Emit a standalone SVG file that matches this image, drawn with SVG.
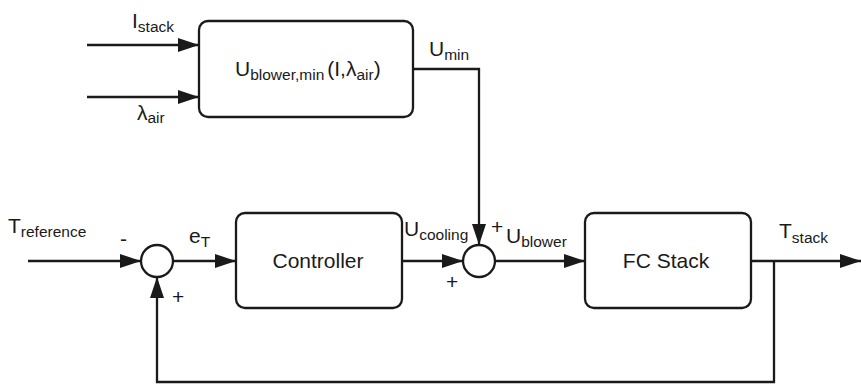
<svg xmlns="http://www.w3.org/2000/svg" width="861" height="385" viewBox="0 0 861 385">
  <style>
    .blk { fill: #fff; stroke: #1a1a1a; stroke-width: 2.3; }
    .sum { fill: #fff; stroke: #1a1a1a; stroke-width: 2.3; }
    .wire { fill: none; stroke: #1a1a1a; stroke-width: 2.3; }
    text { font-family: "Liberation Sans", Arial, sans-serif; fill: #1a1a1a; font-size: 21px; }
    .sub { font-size: 15.5px; }
  </style>
  <defs>
    <marker id="arrow" markerUnits="userSpaceOnUse" markerWidth="21" markerHeight="14" refX="21" refY="7" orient="auto">
      <path d="M0,0 L21,7 L0,14 Z" fill="#1a1a1a"/>
    </marker>
  </defs>

  <!-- signal lines -->
  <g id="connectors">
    <line class="wire" x1="87" y1="45" x2="199" y2="45" marker-end="url(#arrow)"/>
    <line class="wire" x1="87" y1="97" x2="199" y2="97" marker-end="url(#arrow)"/>
    <polyline class="wire" points="413,69 479,69 479,245" marker-end="url(#arrow)"/>
    <line class="wire" x1="28" y1="261" x2="141" y2="261" marker-end="url(#arrow)"/>
    <line class="wire" x1="173" y1="261" x2="236" y2="261" marker-end="url(#arrow)"/>
    <line class="wire" x1="402" y1="261" x2="463" y2="261" marker-end="url(#arrow)"/>
    <line class="wire" x1="495" y1="261" x2="585" y2="261" marker-end="url(#arrow)"/>
    <line class="wire" x1="751" y1="261" x2="861" y2="261" marker-end="url(#arrow)"/>
    <polyline class="wire" points="774,261 774,382 157,382 157,277" marker-end="url(#arrow)"/>
  </g>

  <!-- minimum blower voltage map -->
  <g id="umin-map">
    <rect class="blk" x="199" y="21" width="214" height="96" rx="9"/>
    <text x="235" y="76">U<tspan class="sub" dy="4">blower,min</tspan><tspan dy="-4" dx="3">(I,λ</tspan><tspan class="sub" dy="4">air</tspan><tspan dy="-4">)</tspan></text>
  </g>

  <g id="controller">
    <rect class="blk" x="236" y="213" width="166" height="95" rx="9"/>
    <text x="318" y="268" text-anchor="middle">Controller</text>
  </g>

  <g id="fc-stack">
    <rect class="blk" x="585" y="213" width="166" height="95" rx="9"/>
    <text x="666" y="268" text-anchor="middle">FC Stack</text>
  </g>

  <g id="sum-error">
    <circle class="sum" cx="157" cy="261" r="16"/>
  </g>

  <g id="sum-voltage">
    <circle class="sum" cx="479" cy="261" r="16"/>
  </g>

  <!-- signal labels -->
  <g id="labels">
    <text x="132" y="28">I<tspan class="sub" dy="4">stack</tspan></text>
    <text x="137" y="120">λ<tspan class="sub" dy="3">air</tspan></text>
    <text x="429" y="56">U<tspan class="sub" dy="4">min</tspan></text>
    <text x="8" y="233">T<tspan class="sub" dy="4">reference</tspan></text>
    <text x="120" y="246">-</text>
    <text x="189" y="243">e<tspan class="sub" dy="4">T</tspan></text>
    <text x="172" y="304">+</text>
    <text x="404" y="236">U<tspan class="sub" dy="4">cooling</tspan></text>
    <text x="446" y="289">+</text>
    <text x="491" y="234">+</text>
    <text x="506" y="243">U<tspan class="sub" dy="4">blower</tspan></text>
    <text x="779" y="238">T<tspan class="sub" dy="5">stack</tspan></text>
  </g>
</svg>
